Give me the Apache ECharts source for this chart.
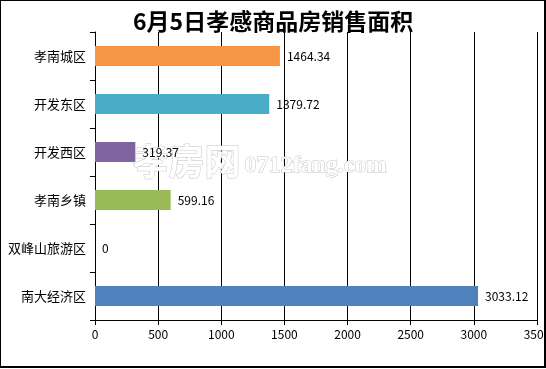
<!DOCTYPE html>
<html>
<head>
<meta charset="utf-8">
<script src="https://cdn.jsdelivr.net/npm/echarts@6/dist/echarts.min.js"></script>
<style>
html,body{margin:0;padding:0;background:#fff;}
#chart{width:546px;height:369px;}
</style>
</head>
<body>
<div id="chart"></div>
<script>
var titleText = '6月5日孝感商品房销售面积';
var categories = ['孝南城区', '开发东区', '开发西区', '孝南乡镇', '双峰山旅游区', '南大经济区'];
var values = [1464.34, 1379.72, 319.37, 599.16, 0, 3033.12];
var labels = ['1464.34', '1379.72', '319.37', '599.16', '0', '3033.12'];
var barColors = ['#F79646', '#4BACC6', '#8064A2', '#9BBB59', '#4F81BD', '#4F81BD'];
var xMin = 0, xMax = 3500, xStep = 500;

var chart = echarts.init(document.getElementById('chart'));
var font = '"Noto Sans CJK SC", sans-serif';
chart.setOption({
  animation: false,
  backgroundColor: '#fff',
  title: {
    text: titleText,
    left: 128, top: 5,
    textStyle: { fontFamily: font, fontSize: 23, fontWeight: 'bold', color: '#000' }
  },
  grid: { left: 95, right: 9, top: 32, bottom: 49, containLabel: false, outerBoundsMode: 'none' },
  xAxis: {
    type: 'value', min: xMin, max: xMax, interval: xStep,
    axisLine: { show: true, lineStyle: { color: '#000', width: 1 } },
    axisTick: { show: true, length: 5, lineStyle: { color: '#000' } },
    splitLine: { show: true, lineStyle: { color: '#000', width: 1 } },
    axisLabel: { color: '#000', fontFamily: font, fontSize: 12, margin: 8, formatter: function (v) { return String(v); } }
  },
  yAxis: {
    type: 'category', data: categories, inverse: true,
    axisLine: { show: true, lineStyle: { color: '#000', width: 1 } },
    axisTick: { show: true, length: 5, lineStyle: { color: '#000' } },
    axisLabel: { color: '#000', fontFamily: font, fontSize: 13, margin: 9 }
  },
  graphic: [
    {
      type: 'text', left: 132, top: 143, z: 1, silent: true,
      style: {
        text: '{a|孝房网}{b|0712fang.com}',
        rich: {
          a: { fontFamily: font, fontSize: 36, fontWeight: 'bold', fill: '#fff', stroke: '#c4c4c4', lineWidth: 1 },
          b: { fontFamily: '"Liberation Serif", serif', fontSize: 24, fontWeight: 'bold', fill: '#fff', stroke: '#c4c4c4', lineWidth: 1, padding: [8, 0, 0, 4] }
        }
      }
    },
    {
      type: 'rect', z: 100, silent: true,
      shape: { x: 0, y: 0, width: 545, height: 367 },
      style: { fill: 'none', stroke: '#000', lineWidth: 2 }
    }
  ],
  series: [{
    type: 'bar',
    barWidth: 20,
    data: values.map(function (v, i) {
      return { value: v, itemStyle: { color: barColors[i] } };
    }),
    label: {
      show: true, position: 'right', distance: 7,
      color: '#000', fontFamily: font, fontSize: 12,
      formatter: function (p) { return labels[p.dataIndex]; }
    }
  }]
});
</script>
</body>
</html>
